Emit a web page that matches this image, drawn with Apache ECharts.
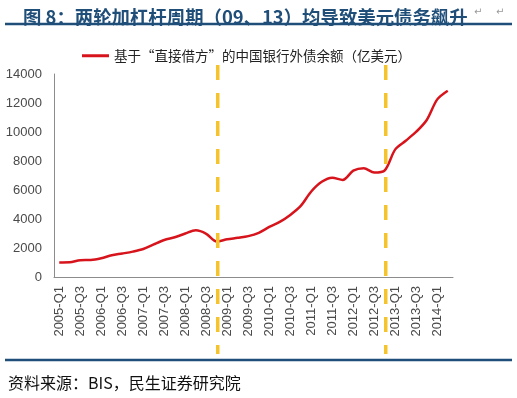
<!DOCTYPE html>
<html>
<head>
<meta charset="utf-8">
<script src="https://cdn.jsdelivr.net/npm/echarts@6/dist/echarts.min.js"></script>
<style>
  html, body { margin: 0; padding: 0; background: #fff; }
  #main { width: 517px; height: 398px; }
</style>
</head>
<body>
<div id="main"></div>
<script>
var quarters = [
  '2005-Q1','2005-Q2','2005-Q3','2005-Q4','2006-Q1','2006-Q2','2006-Q3','2006-Q4',
  '2007-Q1','2007-Q2','2007-Q3','2007-Q4','2008-Q1','2008-Q2','2008-Q3','2008-Q4',
  '2009-Q1','2009-Q2','2009-Q3','2009-Q4','2010-Q1','2010-Q2','2010-Q3','2010-Q4',
  '2011-Q1','2011-Q2','2011-Q3','2011-Q4','2012-Q1','2012-Q2','2012-Q3','2012-Q4',
  '2013-Q1','2013-Q2','2013-Q3','2013-Q4','2014-Q1','2014-Q2'
];
// 中国银行外债余额（亿美元）
var debt = [
  1000, 1010, 1160, 1170, 1290, 1500, 1620, 1750,
  1930, 2250, 2550, 2740, 3000, 3220, 2980, 2450,
  2600, 2700, 2820, 3050, 3450, 3800, 4280, 4900,
  5900, 6570, 6850, 6690, 7330, 7500, 7200, 7350,
  8800, 9400, 10020, 10830, 12250, 12850
];
var cycleMarks = ['2008-Q4', '2012-Q4'];

var seriesName = '基于“直接借方”的中国银行外债余额（亿美元）';
var navy = '#1F4E79';

var myChart = echarts.init(document.getElementById('main'));

myChart.setOption({
  backgroundColor: '#fff',
  animation: false,
  title: {
    text: '图 8：两轮加杠杆周期（09、13）均导致美元债务飙升',
    left: 18,
    top: 3,
    textStyle: {
      fontFamily: 'Noto Sans CJK SC',
      fontSize: 18.4,
      fontWeight: 'bold',
      color: navy
    }
  },
  legend: {
    left: 77,
    top: 44,
    icon: 'rect',
    itemWidth: 27,
    itemHeight: 3,
    itemGap: 6,
    textStyle: {
      fontFamily: 'Noto Sans CJK SC',
      fontSize: 13.5,
      color: '#222'
    },
    data: [seriesName]
  },
  grid: {
    left: 54,
    right: 64,
    top: 74,
    bottom: 121,
    containLabel: false
  },
  xAxis: {
    type: 'category',
    data: quarters,
    boundaryGap: true,
    axisLine: { lineStyle: { color: '#8c8c8c', width: 1 } },
    axisTick: { show: false },
    axisLabel: {
      interval: 1,
      rotate: 90,
      margin: 9,
      fontFamily: 'Liberation Sans',
      fontSize: 13,
      color: '#4a4a4a'
    },
    splitLine: { show: false }
  },
  yAxis: {
    type: 'value',
    min: 0,
    max: 14000,
    interval: 2000,
    axisLine: { show: true, lineStyle: { color: '#8c8c8c', width: 1 } },
    axisTick: { show: false },
    axisLabel: {
      margin: 12,
      fontFamily: 'Liberation Sans',
      fontSize: 13,
      color: '#4a4a4a',
      formatter: function(v) { return String(v); }
    },
    splitLine: { show: false }
  },
  series: [{
    name: seriesName,
    type: 'line',
    data: debt,
    symbol: 'none',
    smooth: 0.3,
    itemStyle: { color: '#D7141C' },
    lineStyle: { color: '#D7141C', width: 2.5 }
  }]
});

// 两条周期虚线（穿过坐标轴标签）+ 标题下划线与资料来源
var topY = myChart.convertToPixel({ yAxisIndex: 0 }, 14000) - 9;
var botY = myChart.convertToPixel({ yAxisIndex: 0 }, 0) + 77;
var graphics = cycleMarks.map(function(q) {
  var x = myChart.convertToPixel({ xAxisIndex: 0 }, q) + 1;
  return {
    type: 'line',
    z: 100,
    shape: { x1: x, y1: topY, x2: x, y2: botY },
    style: { stroke: '#F5C32C', lineWidth: 3.5, lineDash: [15, 13] }
  };
});
graphics.push(
  {
    type: 'line',
    shape: { x1: 5, y1: 24, x2: 512, y2: 24 },
    style: { stroke: navy, lineWidth: 2.5 }
  },
  {
    type: 'text',
    left: 474,
    top: 7,
    style: { text: '↵', fill: '#9a9a9a', font: '10px "DejaVu Sans"' }
  },
  {
    type: 'text',
    left: 496,
    top: 7,
    style: { text: '↵', fill: '#9a9a9a', font: '10px "DejaVu Sans"' }
  },
  {
    type: 'line',
    shape: { x1: 5, y1: 360, x2: 512, y2: 360 },
    style: { stroke: navy, lineWidth: 2.5 }
  },
  {
    type: 'text',
    left: 8,
    top: 375,
    style: {
      text: '资料来源：BIS，民生证券研究院',
      fill: '#111',
      font: '16px "Noto Sans CJK SC"'
    }
  }
);
myChart.setOption({ graphic: graphics });
</script>
</body>
</html>
